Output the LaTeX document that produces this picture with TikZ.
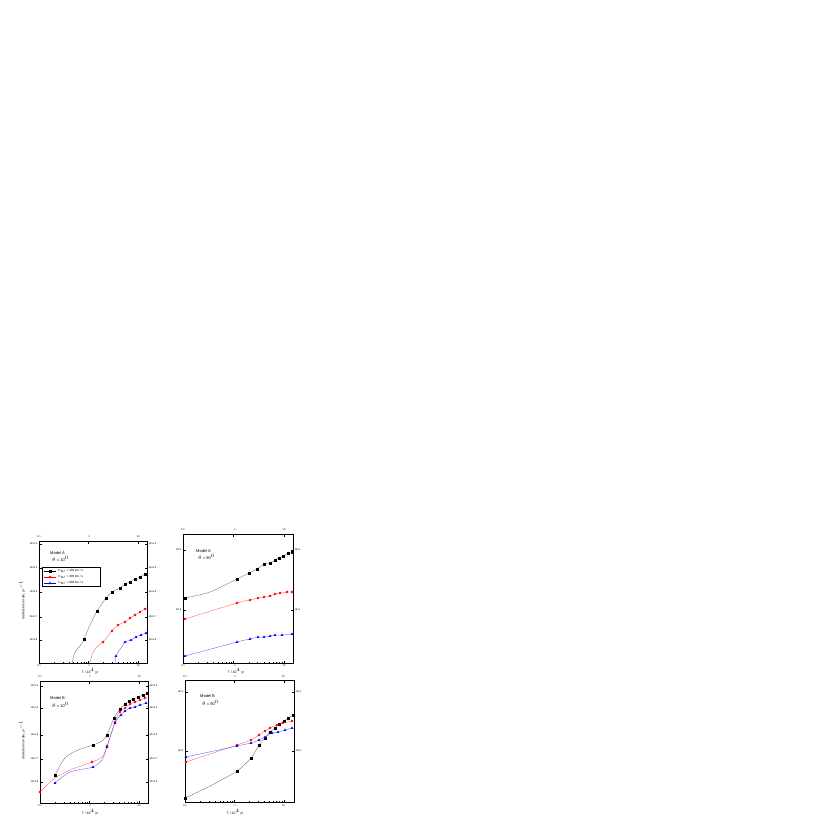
\documentclass[tikz,border=0pt]{standalone}
\usepackage{fontspec}
\setmainfont{Liberation Sans}
\usetikzlibrary{plotmarks}
\begin{document}
\begin{tikzpicture}[x=1pt,y=-1pt,
  tk/.style={font=\fontsize{2.6}{3}\selectfont,inner sep=0.5pt},
  ttl/.style={font=\fontsize{4}{4.5}\selectfont,inner sep=0,anchor=west},
  lab/.style={font=\fontsize{3.4}{4}\selectfont,inner sep=0},
  blk/.style={black!70,line width=0.25pt},
  rd/.style={red!80,line width=0.25pt},
  bl/.style={blue!80,line width=0.25pt},
  mk/.style={only marks,mark size=1.1pt}]
\useasboundingbox (0,0) rectangle (830,830);
\fill[white] (0,0) rectangle (830,830);
% tick helper: #1 x at 0.1, #2 decade, #3 top y, #4 bottom y, #5 right x
\newcommand{\xlogticks}[5]{%
  \foreach \d in {0,1,2}{\foreach \k in {1,...,9}{%
    \pgfmathsetmacro{\xx}{#1+#2*(\d+log10(\k))}%
    \pgfmathparse{\xx<#5?1:0}%
    \ifnum\pgfmathresult=1
      \ifnum\k=1 \def\len{2.5}\else\def\len{1.4}\fi
      \draw[line width=0.2pt] (\xx,#4) -- ++(0,-\len) (\xx,#3) -- ++(0,\len);
    \fi}}}
\newcommand{\panelframe}[4]{\draw[line width=0.35pt] (#1,#2) rectangle (#3,#4);}
% ---------- panel A left ----------
\panelframe{39}{541}{147}{663}
\xlogticks{39}{49.5}{541}{663}{147}
\foreach \y/\t in {544/4,568/5,592/6,617/7,640/8}{
  \draw[line width=0.2pt] (39,\y)--(41.5,\y) (147,\y)--(144.5,\y);
  \node[tk,anchor=east] at (38,\y) {1E-6.\t};
  \node[tk,anchor=west] at (148,\y) {1E-6.\t};}
\foreach \x/\t in {39/0.1,89/1,138/10}{
  \node[tk] at (\x,537) {\t}; \node[tk] at (\x,666) {\t};}
\node[lab,rotate=90] at (22,600) {coalescence rate, yr$^{-1}$};
\node[lab] at (90,671) {T / 10$^4$ yr};
\node[ttl] at (50,553) {Model A};
\node[ttl] at (52,559) {$\theta$ = 10$^0$};
\draw[line width=0.2pt] (42,567) rectangle (100,586);
\foreach \y/\c/\m/\v in {571/black/square*/100,577/red/*/300,583/blue/triangle*/800}{
  \draw[\c,line width=0.25pt] (44,\y)--(56,\y);
  \node[\c,mark size=1.1pt] at (50,\y) {\tikz\pgfuseplotmark{\m};};
  \node[lab,anchor=west,font=\fontsize{3}{3.5}\selectfont] at (58,\y) {V$_w$ = \v\ km / s};}
\draw[blk] plot[smooth] coordinates{(72,663)(75,652)(80,646)(84,639)(90,625)(97,611)(106,598)(112,592)(120,588)(125,584)(130,582)(135,579)(140,577)(145,574)(147,573)};
\draw[black] plot[mk,mark=square*] coordinates{(84,639)(97,611)(106,598)(112,592)(120,588)(125,584)(130,582)(135,579)(140,577)(145,574)};
\draw[rd] plot[smooth] coordinates{(90,663)(93,652)(98,646)(103,642)(112,631)(118,625)(125,622)(130,618)(135,615)(140,612)(145,609)(147,608)};
\draw[red] plot[mk,mark=*] coordinates{(103,642)(112,631)(118,625)(125,622)(130,618)(135,615)(140,612)(145,609)};
\draw[bl] plot[smooth] coordinates{(116,663)(116,656)(121,648)(125,642)(131,640)(136,637)(141,635)(146,633)(147,632.5)};
\draw[blue] plot[mk,mark=triangle*] coordinates{(116,656)(125,642)(131,640)(136,637)(141,635)(146,633)};
% ---------- panel A right ----------
\panelframe{183}{534}{293}{663}
\xlogticks{183}{50.5}{534}{663}{293}
\foreach \y/\t in {550/5,610/6}{
  \draw[line width=0.2pt] (183,\y)--(185.5,\y) (293,\y)--(290.5,\y);
  \node[tk,anchor=east] at (182,\y) {1E-\t};
  \node[tk,anchor=west] at (294,\y) {1E-\t};}
\foreach \x/\t in {183/0.1,235/1,284/10}{
  \node[tk] at (\x,530) {\t}; \node[tk] at (\x,666) {\t};}
\node[lab] at (236,671) {T / 10$^4$ yr};
\node[ttl] at (196,551) {Model A};
\node[ttl] at (198,557) {$\theta$ = 90$^0$};
\draw[blk] plot[smooth] coordinates{(185,598)(210,592)(237,579)(249,573)(257,569)(264,564)(270,563)(275,560)(279,558)(283,556)(288,553)(292,552)};
\draw[black] plot[mk,mark=square*] coordinates{(185,598)(237,579)(249,573)(257,569)(264,564)(270,563)(275,560)(279,558)(283,556)(288,553)(292,552)};
\draw[rd] plot[smooth] coordinates{(185,619)(237,603)(250,600)(258,598)(264,597)(270,596)(275,594)(280,593)(287,592)(292,592)};
\draw[red] plot[mk,mark=*] coordinates{(185,619)(237,603)(250,600)(258,598)(264,597)(270,596)(275,594)(280,593)(287,592)(292,592)};
\draw[bl] plot[smooth] coordinates{(185,656)(237,642)(250,639)(258,637)(264,637)(270,636)(275,635)(282,635)(292,634)};
\draw[blue] plot[mk,mark=triangle*] coordinates{(185,656)(237,642)(250,639)(258,637)(264,637)(270,636)(275,635)(282,635)(292,634)};
% ---------- panel B left ----------
\panelframe{40}{681}{148}{803}
\xlogticks{40}{49.5}{681}{803}{148}
\foreach \y/\t in {686/4,708/5,735/6,759/7,782/8}{
  \draw[line width=0.2pt] (40,\y)--(42.5,\y) (148,\y)--(145.5,\y);
  \node[tk,anchor=east] at (39,\y) {1E-6.\t};
  \node[tk,anchor=west] at (149,\y) {1E-6.\t};}
\foreach \x/\t in {40/0.1,90/1,139/10}{
  \node[tk] at (\x,677) {\t}; \node[tk] at (\x,806) {\t};}
\node[lab,rotate=90] at (22,740) {coalescence rate, yr$^{-1}$};
\node[lab] at (90,812) {T / 10$^4$ yr};
\node[ttl] at (50,698) {Model B};
\node[ttl] at (52,705) {$\theta$ = 10$^0$};
\draw[blk] plot[smooth] coordinates{(55,775)(65,758)(78,750)(93,745)(102,741)(107,735)(114,718)(120,709)(125,704)(129,701)(133,699)(138,697)(143,695)(147,693)};
\draw[black] plot[mk,mark=square*] coordinates{(55,775)(93,745)(107,735)(114,718)(120,709)(125,704)(129,701)(133,699)(138,697)(143,695)(147,693)};
\draw[rd] plot[smooth] coordinates{(40,792)(55,778)(70,770)(92,762)(102,757)(107,746)(115,722)(120,712)(125,708)(130,704)(135,702)(140,700)(145,698)};
\draw[red] plot[mk,mark=*] coordinates{(40,792)(92,762)(107,746)(115,722)(120,712)(125,708)(130,704)(135,702)(140,700)(145,698)};
\draw[bl] plot[smooth] coordinates{(55,783)(70,772)(93,767)(102,760)(107,747)(115,723)(121,715)(125,711)(130,708)(135,707)(140,705)(146,703)};
\draw[blue] plot[mk,mark=triangle*] coordinates{(55,783)(93,767)(107,747)(115,723)(121,715)(125,711)(130,708)(135,707)(140,705)(146,703)};
% ---------- panel B right ----------
\panelframe{185}{680}{294}{802}
\xlogticks{185}{49.5}{680}{802}{294}
\foreach \y/\t in {692/4,751/5}{
  \draw[line width=0.2pt] (185,\y)--(187.5,\y) (294,\y)--(291.5,\y);
  \node[tk,anchor=east] at (184,\y) {1E-\t};
  \node[tk,anchor=west] at (295,\y) {1E-\t};}
\foreach \x/\t in {185/0.1,235/1,283/10}{
  \node[tk] at (\x,677) {\t}; \node[tk] at (\x,806) {\t};}
\node[lab] at (235,812) {T / 10$^4$ yr};
\node[ttl] at (200,696) {Model B};
\node[ttl] at (202,703) {$\theta$ = 90$^0$};
\draw[blk] plot[smooth] coordinates{(185,798)(210,786)(237,771)(251,758)(259,745)(265,738)(270,732)(275,728)(279,724)(284,721)(288,718)(293,715)};
\draw[black] plot[mk,mark=square*] coordinates{(185,798)(237,771)(251,758)(259,745)(265,738)(270,732)(275,728)(279,724)(284,721)(288,718)(293,715)};
\draw[rd] plot[smooth] coordinates{(186,762)(237,745)(251,740)(259,735)(265,731)(270,728)(277,725)(283,723)(292,721)};
\draw[red] plot[mk,mark=*] coordinates{(186,762)(237,745)(251,740)(259,735)(265,731)(270,728)(277,725)(283,723)(292,721)};
\draw[bl] plot[smooth] coordinates{(186,757)(237,746)(251,743)(259,740)(265,737)(272,733)(278,732)(285,730)(292,728)};
\draw[blue] plot[mk,mark=triangle*] coordinates{(186,757)(237,746)(251,743)(259,740)(265,737)(272,733)(278,732)(285,730)(292,728)};
\end{tikzpicture}
\end{document}
